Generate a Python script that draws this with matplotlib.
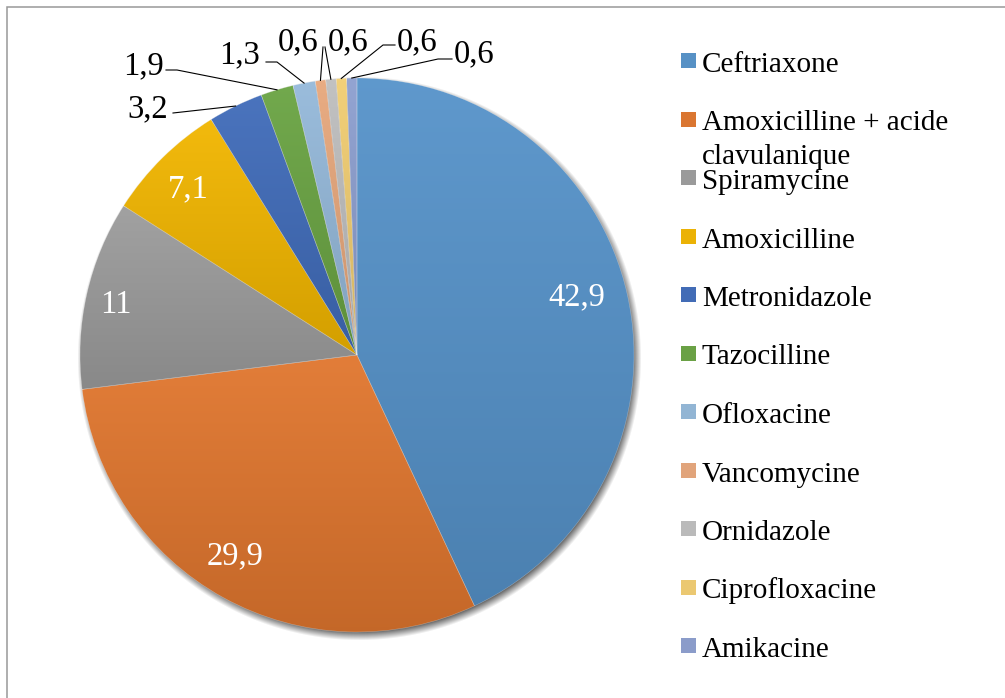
#! /usr/bin/env python3

import matplotlib
matplotlib.use("Agg")
import matplotlib.pyplot as plt
from matplotlib.patches import Rectangle
from matplotlib.colors import to_rgb
import numpy as np

# data
antibiotics = ["Ceftriaxone", "Amoxicilline + acide\nclavulanique", "Spiramycine",
               "Amoxicilline", "Metronidazole", "Tazocilline", "Ofloxacine",
               "Vancomycine", "Ornidazole", "Ciprofloxacine", "Amikacine"]
percent = [42.9, 29.9, 11, 7.1, 3.2, 1.9, 1.3, 0.6, 0.6, 0.6, 0.6]
colors = ["#5B9BD5", "#ED7D31", "#A5A5A5", "#FFC000", "#4472C4", "#70AD47",
          "#9DC3E6", "#F4B183", "#C9C9C9", "#FFD978", "#95A8DB"]

W, H = 1005, 698
CX, CY, R = 357, 355, 277   # pie centre / radius in image pixels (y down)

def up(y):
    return H - y

# layout of the labels (image pixels)
inside_tweak = {0: (3.0, 0.823), 1: (-2.8, 0.841), 2: (0.4, 0.892), 3: (0.3, 0.861)}
outside_layout = {
    4: ((148, 106), [(173, 113)]),
    5: ((143, 63), [(166, 70), (177, 70)]),
    6: ((240, 52), [(266, 62), (277, 62)]),
    7: ((298, 39), [(323, 47)]),
    8: ((348, 39), [(325, 47)]),
    9: ((417, 39), [(395, 45), (383, 45)]),
    10: ((474, 51), [(452, 59), (438, 59)]),
}

plt.rcParams['font.family'] = ['Liberation Serif', 'DejaVu Serif']
FS = 21      # legend
FS_LBL = 23.5  # data labels

fig = plt.figure(figsize=(W / 100, H / 100), dpi=100)
ax = fig.add_axes([0, 0, 1, 1])
ax.set_xlim(0, W)
ax.set_ylim(0, H)
ax.axis('off')

# frame
ax.add_patch(Rectangle((6.5, -20), 1100, up(6.5) + 20, fill=False,
                       edgecolor='#999999', linewidth=1.1, zorder=0))

# soft drop shadow
yy, xx = np.mgrid[0:H, 0:W]
d = np.hypot(xx - (CX + 2), yy - (up(CY) - 4))
a = np.clip((R + 5 - d) / 9.0, 0, 1) * 0.6
shadow = np.zeros((H, W, 4))
shadow[..., 3] = a
ax.imshow(shadow, extent=(0, W, 0, H), origin='lower', zorder=1,
          interpolation='bilinear')

wedges, _ = ax.pie(percent, startangle=90, counterclock=False,
                   center=(CX, up(CY)), radius=R, colors=colors,
                   wedgeprops=dict(linewidth=0))
ax.set_xlim(0, W)
ax.set_ylim(0, H)
ax.set_aspect('auto')

# vertical gradient inside each slice
for w, c in zip(wedges, colors):
    base = np.array(to_rgb(c))
    top = np.clip(base * 0.9 + 0.05, 0, 1)
    bot = base * 0.83
    t = np.linspace(0, 1, 64)[:, None]
    grad = (bot[None, :] * (1 - t) + top[None, :] * t)[:, None, :]
    ext = w.get_path().get_extents()
    im = ax.imshow(grad, extent=(ext.x0, ext.x1, ext.y0, ext.y1), origin='lower',
                   aspect='auto', zorder=2, interpolation='bilinear')
    im.set_clip_path(w)
    w.set_facecolor('none')
    w.set_edgecolor((1, 1, 1, 0.35))
    w.set_linewidth(0.4)
    w.set_zorder(3)

# data labels
total = sum(percent)
cum = 0
for i, v in enumerate(percent):
    mid = 90 - (cum + v / 2) / total * 360
    cum += v
    txt = f"{v:g}".replace('.', ',')
    if i in inside_tweak:
        da, rf = inside_tweak[i]
        ang = np.radians(mid + da)
        x = CX + rf * R * np.cos(ang)
        y = CY - rf * R * np.sin(ang)
        ax.text(x, up(y + 11), txt, color='white', fontsize=FS_LBL, ha='center',
                va='baseline', zorder=5)
    else:
        (tx, ty), pts = outside_layout[i]
        ang = np.radians(mid)
        ex = CX + R * np.cos(ang)
        ey = CY - R * np.sin(ang)
        px = [p[0] for p in pts] + [ex]
        py = [up(p[1]) for p in pts] + [up(ey)]
        ax.plot(px, py, color='black', linewidth=0.8, zorder=5)
        ax.text(tx, up(ty + 11), txt, color='black', fontsize=FS_LBL, ha='center',
                va='baseline', zorder=5)

# legend
for i, (name, c) in enumerate(zip(antibiotics, colors)):
    yc = 60.5 + i * 58.5
    base = np.array(to_rgb(c))
    ax.add_patch(Rectangle((681, up(yc + 7.5)), 15, 15, facecolor=base * 0.9 + 0.02,
                           edgecolor='none', zorder=5))
    for j, line in enumerate(name.split('\n')):
        ax.text(702, up(yc + 11.5 + j * 33), line, fontsize=FS, ha='left',
                va='baseline', zorder=5)

fig.savefig("out.png", dpi=100)
